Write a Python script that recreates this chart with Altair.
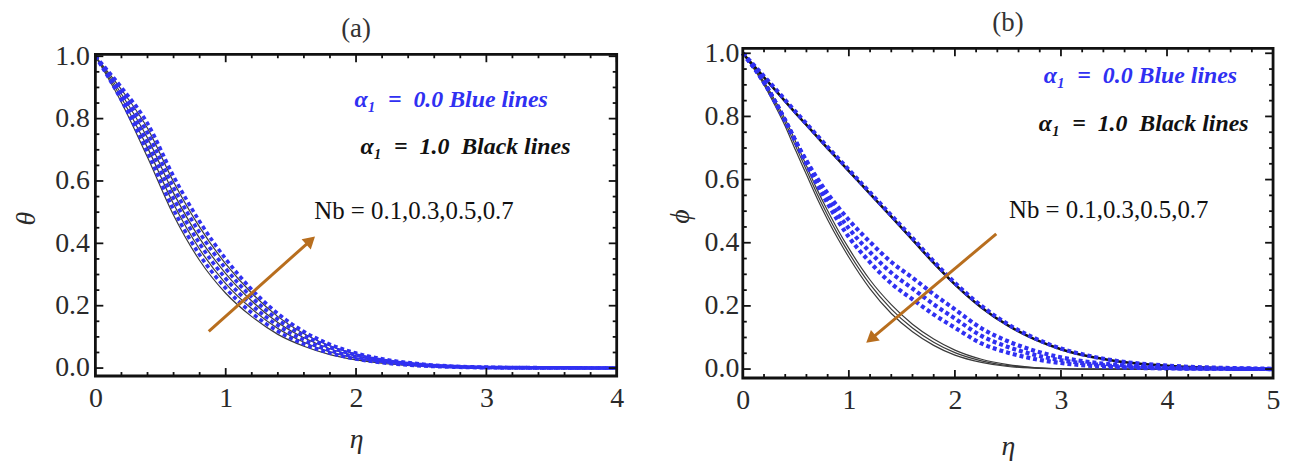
import altair as alt
import pandas as pd

# ---------------- panel (a): theta vs eta ----------------
eta_a = [0, 0.2, 0.4, 0.6, 0.8, 1.0, 1.2, 1.4, 1.6, 1.8, 2.0, 2.25, 2.5, 2.75, 3.0, 3.5, 4.0]
theta_black_nb01 = [1, 0.852, 0.676, 0.490, 0.345, 0.240, 0.165, 0.108, 0.070, 0.043, 0.026, 0.013, 0.006, 0.003, 0.001, 0, 0]
theta_blue_nb01 = [1, 0.859, 0.692, 0.508, 0.363, 0.256, 0.177, 0.118, 0.077, 0.048, 0.029, 0.015, 0.007, 0.003, 0.001, 0, 0]
theta_black_nb03 = [1, 0.866, 0.707, 0.526, 0.381, 0.271, 0.190, 0.127, 0.083, 0.052, 0.032, 0.017, 0.008, 0.004, 0.001, 0, 0]
theta_blue_nb03 = [1, 0.873, 0.723, 0.544, 0.399, 0.287, 0.202, 0.137, 0.090, 0.057, 0.035, 0.019, 0.009, 0.004, 0.002, 0, 0]
theta_black_nb05 = [1, 0.879, 0.738, 0.561, 0.416, 0.303, 0.215, 0.146, 0.097, 0.062, 0.039, 0.020, 0.010, 0.005, 0.002, 0.001, 0]
theta_blue_nb05 = [1, 0.886, 0.754, 0.579, 0.434, 0.319, 0.227, 0.156, 0.104, 0.067, 0.042, 0.022, 0.011, 0.005, 0.002, 0.001, 0]
theta_black_nb07 = [1, 0.893, 0.769, 0.597, 0.452, 0.334, 0.240, 0.165, 0.110, 0.071, 0.045, 0.024, 0.012, 0.006, 0.003, 0.001, 0]
theta_blue_nb07 = [1, 0.900, 0.785, 0.615, 0.470, 0.350, 0.252, 0.175, 0.117, 0.076, 0.048, 0.026, 0.013, 0.006, 0.003, 0.001, 0]

# ---------------- panel (b): phi vs eta ----------------
eta_b = [0, 0.1, 0.2, 0.3, 0.4, 0.5, 0.6, 0.7, 0.8, 0.9, 1.0, 1.2, 1.4, 1.6, 1.8, 2.0,
         2.25, 2.5, 2.75, 3.0, 3.25, 3.5, 4.0, 4.5, 5.0]
phi_black_nb01 = [1.0, 0.962, 0.924, 0.886, 0.848, 0.810, 0.773, 0.736, 0.699, 0.663, 0.627, 0.555, 0.483,
                  0.410, 0.336, 0.268, 0.195, 0.138, 0.095, 0.063, 0.041, 0.026, 0.010, 0.003, 0.001]
phi_blue_nb01 = [1.0, 0.964, 0.927, 0.890, 0.852, 0.814, 0.777, 0.740, 0.703, 0.667, 0.631, 0.559, 0.487,
                 0.415, 0.341, 0.273, 0.200, 0.142, 0.098, 0.065, 0.043, 0.027, 0.011, 0.004, 0.001]
phi_black_nb03 = [1.0, 0.957, 0.910, 0.853, 0.791, 0.719, 0.644, 0.569, 0.501, 0.439, 0.382, 0.282, 0.204,
                  0.142, 0.095, 0.060, 0.031, 0.014, 0.005, 0.001, 0, 0, 0, 0, 0]
phi_black_nb05 = [1.0, 0.955, 0.905, 0.845, 0.780, 0.705, 0.630, 0.555, 0.487, 0.425, 0.368, 0.268, 0.190,
                  0.130, 0.085, 0.052, 0.026, 0.011, 0.004, 0.001, 0, 0, 0, 0, 0]
phi_black_nb07 = [1.0, 0.953, 0.900, 0.837, 0.769, 0.691, 0.616, 0.541, 0.473, 0.411, 0.354, 0.254, 0.176,
                  0.118, 0.075, 0.044, 0.021, 0.008, 0.003, 0.001, 0, 0, 0, 0, 0]
phi_blue_nb03 = [1.0, 0.957, 0.908, 0.850, 0.787, 0.720, 0.660, 0.605, 0.556, 0.512, 0.472, 0.402, 0.339,
                 0.289, 0.237, 0.189, 0.129, 0.088, 0.058, 0.037, 0.023, 0.014, 0.004, 0.001, 0]
phi_blue_nb05 = [1.0, 0.957, 0.908, 0.850, 0.787, 0.720, 0.655, 0.595, 0.540, 0.490, 0.445, 0.370, 0.305,
                 0.255, 0.205, 0.160, 0.105, 0.070, 0.045, 0.028, 0.017, 0.010, 0.003, 0.001, 0]
phi_blue_nb07 = [1.0, 0.957, 0.908, 0.850, 0.787, 0.720, 0.650, 0.585, 0.524, 0.468, 0.418, 0.338, 0.271,
                 0.221, 0.173, 0.131, 0.081, 0.052, 0.032, 0.019, 0.011, 0.006, 0.002, 0.001, 0]

# ---------------- axes ticks / labels ----------------
xa_major = [0, 1, 2, 3, 4]
xb_major = [0, 1, 2, 3, 4, 5]
y_major = [0.0, 0.2, 0.4, 0.6, 0.8, 1.0]
xa_minor = [round(i * 0.2, 2) for i in range(21) if i % 5]
xb_minor = [round(i * 0.2, 2) for i in range(26) if i % 5]
y_minor = [round(i * 0.05, 2) for i in range(21) if i % 4]

# ---------------- annotations ----------------
NB = "\u00a0"
ann_text = ["α₁ " + NB + "=" + NB + " 0.0 Blue lines", "α₁ " + NB + "=" + NB + " 1.0 " + NB + "Black lines"]
ann_a_x = [2.73, 2.84]
ann_a_y = [0.86, 0.71]
ann_b_x = [3.75, 3.78]
ann_b_y = [0.928, 0.777]
nb_text = "Nb = 0.1,0.3,0.5,0.7"
nb_a = (1.68, 0.505)
nb_b = (2.51, 0.503)
arrow_a = {"eta": [0.87, 1.64], "val": [0.118, 0.405]}
arrow_b = {"eta": [2.39, 1.221], "val": [0.428, 0.099]}

FONT = "Times New Roman, Liberation Serif, DejaVu Serif, serif"
BLUE = "#3030f2"
BROWN = "#b86e1e"
TXT = "#2a2a2a"


def long_df(eta, series):
    rows = []
    for name, vals in series.items():
        for e, v in zip(eta, vals):
            rows.append({"eta": e, "val": v, "curve": name})
    return pd.DataFrame(rows)


def panel(title, title_y, W, H, ftop, xdom, ydom, xmaj, xmin, ytitle, black, black_bold, blue,
          ann_x, ann_y, nbpos, arrow, arrow_angle, ylabpad, ytitle_x, xtitle_y, blue_w):
    xs = alt.Scale(domain=xdom, nice=False, zero=False)
    ys = alt.Scale(domain=ydom, nice=False, zero=False)
    xaxis = alt.Axis(values=xmaj, format="d", ticks=False, domain=False, grid=False,
                     labelFont=FONT, labelFontSize=28, labelColor=TXT, labelPadding=9,
                     title="η", titleFont=FONT, titleFontStyle="italic", titleFontWeight="normal",
                     titleFontSize=28, titleColor=TXT, titleX=W / 2, titleY=xtitle_y,
                     titleBaseline="middle", titleAlign="center", labelFlush=False)
    yaxis = alt.Axis(values=y_major, format=".1f", ticks=False, domain=False, grid=False,
                     labelFont=FONT, labelFontSize=28, labelColor=TXT, labelPadding=ylabpad,
                     title=ytitle, titleFont=FONT, titleFontStyle="italic", titleFontWeight="normal",
                     titleFontSize=28, titleColor=TXT, titleX=ytitle_x, titleY=(H + ftop) / 2 + 3,
                     titleBaseline="middle", titleAlign="center", labelFlush=False)

    def X(f="eta"):
        return alt.X(f, type="quantitative", scale=xs, axis=xaxis)

    def Y(f="val"):
        return alt.Y(f, type="quantitative", scale=ys, axis=yaxis)

    layers = []
    # curves
    layers.append(alt.Chart(black).mark_line(color="#3a3a3a", strokeWidth=1.2, interpolate="monotone")
                  .encode(x=X(), y=Y(), detail="curve:N"))
    if black_bold is not None:
        layers.append(alt.Chart(black_bold).mark_line(color="#111", strokeWidth=2.6, interpolate="monotone")
                      .encode(x=X(), y=Y(), detail="curve:N"))
    layers.append(alt.Chart(blue).mark_line(color=BLUE, strokeWidth=blue_w, strokeDash=[4, 3],
                                            interpolate="monotone")
                  .encode(x=X(), y=Y(), detail="curve:N"))

    # inward frame ticks on all four sides
    for vals, L in ((xmaj, 8), (xmin, 4)):
        d = alt.Chart(pd.DataFrame({"eta": vals})).mark_rule(color="#111", strokeWidth=1.8)
        layers.append(d.encode(x=X(), y=alt.value(H), y2=alt.value(H - L)))
        layers.append(d.encode(x=X(), y=alt.value(ftop), y2=alt.value(ftop + L)))
    for vals, L in ((y_major, 8), (y_minor, 4)):
        d = alt.Chart(pd.DataFrame({"val": vals})).mark_rule(color="#111", strokeWidth=1.8)
        layers.append(d.encode(y=Y(), x=alt.value(0), x2=alt.value(L)))
        layers.append(d.encode(y=Y(), x=alt.value(W), x2=alt.value(W - L)))
    # frame
    one = pd.DataFrame({"eta": [0]})
    layers.append(alt.Chart(one).mark_rect(
        fill="transparent", stroke="#111", strokeWidth=2.8).encode(
        x=alt.value(0), x2=alt.value(W), y=alt.value(ftop), y2=alt.value(H)))

    # panel title as text, plus an invisible twin that fixes the top bound of both panels
    layers.append(alt.Chart(one).mark_text(font=FONT, fontSize=27, color="#333", text=title,
                                           align="center", baseline="middle")
                  .encode(x=alt.value(W / 2), y=alt.value(title_y)))
    layers.append(alt.Chart(one).mark_text(font=FONT, fontSize=27, opacity=0, text=title,
                                           align="center", baseline="middle")
                  .encode(x=alt.value(W / 2), y=alt.value(-25)))

    # annotations
    tdf = pd.DataFrame({"eta": ann_x, "val": ann_y, "t": ann_text, "c": [BLUE, "#111"]})
    layers.append(alt.Chart(tdf).mark_text(font=FONT, fontSize=24, fontStyle="italic", fontWeight="bold",
                                           align="center", baseline="middle")
                  .encode(x=X(), y=Y(), text="t:N", color=alt.Color("c:N", scale=None)))
    ndf = pd.DataFrame({"eta": [nbpos[0]], "val": [nbpos[1]], "t": [nb_text]})
    layers.append(alt.Chart(ndf).mark_text(font=FONT, fontSize=25, color="#111",
                                           align="left", baseline="middle")
                  .encode(x=X(), y=Y(), text="t:N"))
    adf = pd.DataFrame(arrow)
    layers.append(alt.Chart(adf).mark_line(color=BROWN, strokeWidth=3).encode(x=X(), y=Y()))
    hdf = adf.iloc[[1]]
    layers.append(alt.Chart(hdf).mark_point(shape="triangle", filled=True, size=190, color=BROWN,
                                            opacity=1, angle=arrow_angle)
                  .encode(x=X(), y=Y()))

    return alt.layer(*layers).properties(width=W, height=H)


black_a = long_df(eta_a, {"k1": theta_black_nb01, "k3": theta_black_nb03,
                          "k5": theta_black_nb05, "k7": theta_black_nb07})
blue_a = long_df(eta_a, {"b1": theta_blue_nb01, "b3": theta_blue_nb03,
                         "b5": theta_blue_nb05, "b7": theta_blue_nb07})
black_b = long_df(eta_b, {"k3": phi_black_nb03, "k5": phi_black_nb05, "k7": phi_black_nb07})
black_b_bold = long_df(eta_b, {"k1": phi_black_nb01})
blue_b = long_df(eta_b, {"b1": phi_blue_nb01, "b3": phi_blue_nb03,
                         "b5": phi_blue_nb05, "b7": phi_blue_nb07})

chart_a = panel("(a)", -19, 525, 330, 6, [0, 4], [-0.02548, 1.02548], xa_major, xa_minor, "θ",
                black_a, None, blue_a, ann_a_x, ann_a_y, nb_a, arrow_a, 48, 6, -69, 64, 3.6)
chart_b = panel("(b)", -25, 534, 332, 0, [0, 5], [-0.0283, 1.0157], xb_major, xb_minor, "ϕ",
                black_b, black_b_bold, blue_b, ann_b_x, ann_b_y, nb_b, arrow_b, 230, 4, -63, 69, 4.2)

chart = alt.hconcat(chart_a, chart_b, spacing=42).configure_view(
    stroke="transparent", strokeWidth=0).properties(
    padding={"left": 5, "top": 0, "right": 0, "bottom": 0}, background="white")

chart.save("out.html", embed_options={"renderer": "svg", "actions": False})
